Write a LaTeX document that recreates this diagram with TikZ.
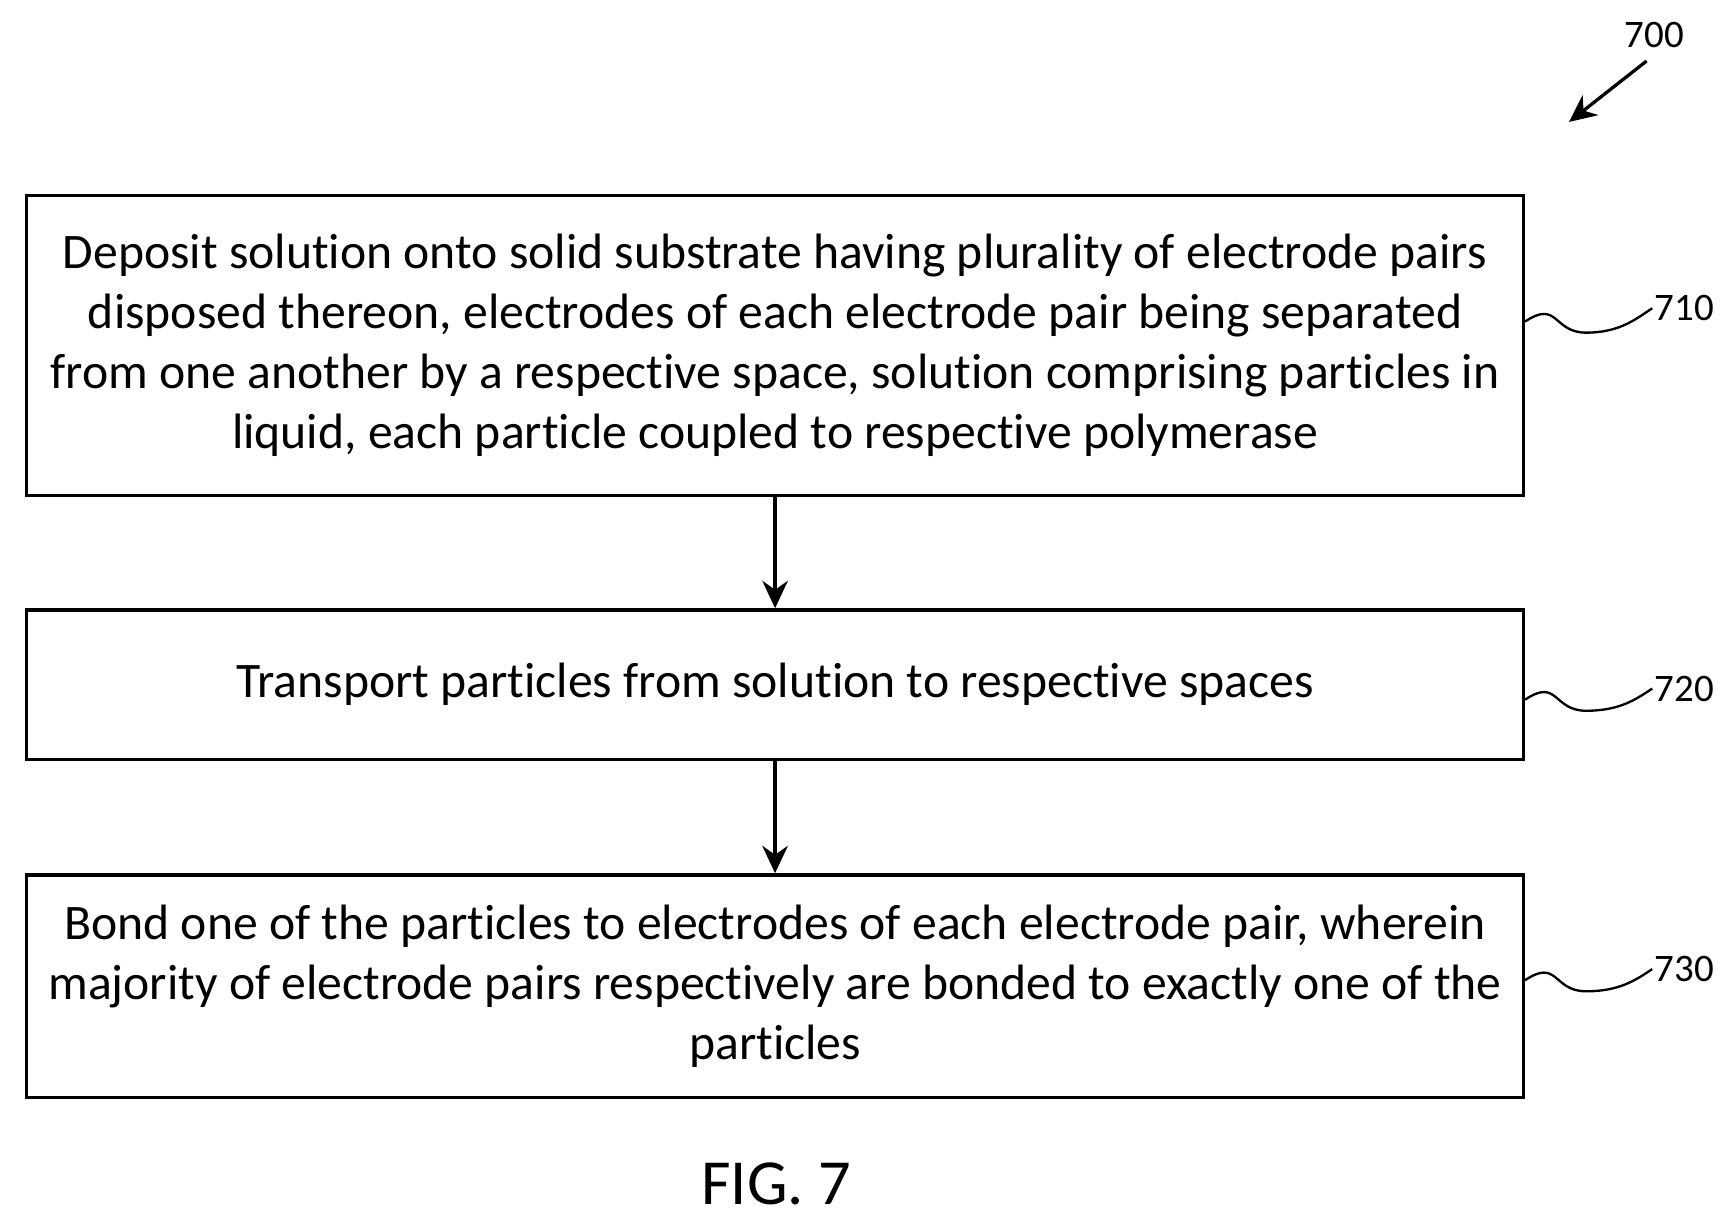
\documentclass[tikz,border=0pt]{standalone}
\usepackage{fontspec}
\setmainfont{Carlito}[RawFeature={-liga}]
\usetikzlibrary{arrows.meta}
\begin{document}
\begin{tikzpicture}[x=0.02cm,y=-0.02cm,
  stepbox/.style={draw,line width=1.7pt,minimum width=27.0cm,align=center,inner sep=0pt,font=\fontsize{25.5}{30.8}\selectfont},
  lbl/.style={font=\fontsize{20}{24}\selectfont,anchor=west,inner sep=1pt},
  arr/.style={line width=2.2pt,-{Stealth[length=14pt,width=13pt]}},
  sq/.style={line width=1.2pt}]
\useasboundingbox (0,0) rectangle (1562,1104);
\node[stepbox,minimum height=5.42cm] (b1) at (699,311.5) {Deposit solution onto solid substrate having plurality of electrode pairs\\disposed thereon, electrodes of each electrode pair being separated\\from one another by a respective space, solution comprising particles in\\liquid, each particle coupled to respective polymerase};
\node[stepbox,minimum height=2.7cm] (b2) at (699,617.5) {Transport particles from solution to respective spaces};
\node[stepbox,minimum height=4.02cm] (b3) at (699,889.5) {Bond one of the particles to electrodes of each electrode pair, wherein\\majority of electrode pairs respectively are bonded to exactly one of the\\particles};
\draw[arr] (b1.south) -- (b2.north);
\draw[arr] (b2.south) -- (b3.north);
\node[lbl] (l1) at (1490,278) {710};
\node[lbl] (l2) at (1490,621) {720};
\node[lbl] (l3) at (1490,874) {730};
\foreach \b/\l/\y in {b1/l1/290,b2/l2/631,b3/l3/884}{
  \draw[sq] (\b.east |- 0,\y) .. controls +(30,-20) and +(-30,0) .. +(55,10) .. controls +(30,0) and +(-15,10) .. (\l.west);
}
\node[font=\fontsize{20}{24}\selectfont] (l0) at (1492,32) {700};
\coordinate (a0) at (1485,55);
\draw[arr,line width=1.7pt] (a0) -- (1415,110);
\node[font=\fontsize{33}{38}\selectfont] (fig) at (700,1068) {FIG. 7};
\end{tikzpicture}
\end{document}
